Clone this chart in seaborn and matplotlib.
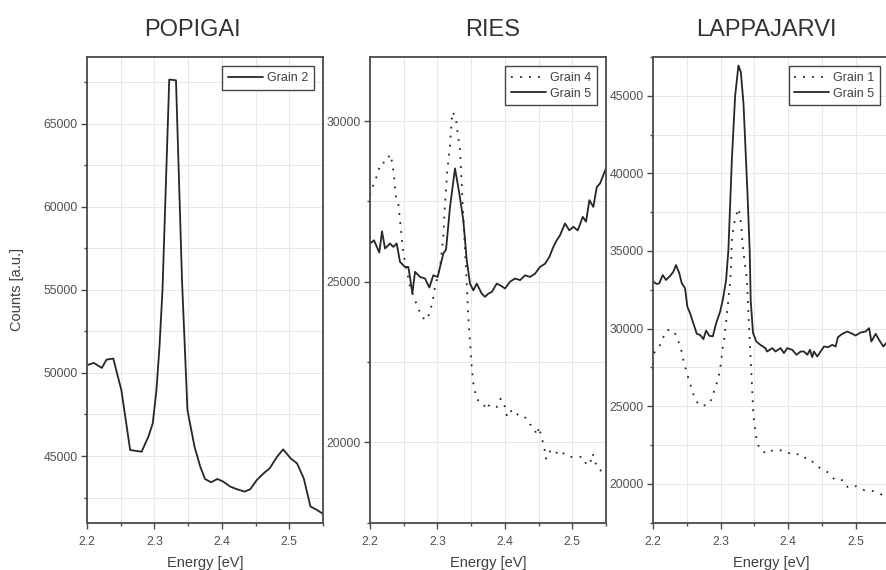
import numpy as np
import pandas as pd
import matplotlib
matplotlib.use("Agg")
import matplotlib.pyplot as plt
import matplotlib.ticker as mticker
import seaborn as sns

# Popigai, grain 2
pop_e = [2.200, 2.210, 2.222, 2.229, 2.239, 2.251, 2.264, 2.274, 2.281, 2.291,
         2.2975, 2.303, 2.3075, 2.312, 2.322, 2.332, 2.341, 2.349, 2.3595, 2.368,
         2.375, 2.384, 2.3935, 2.402, 2.4125, 2.4225, 2.434, 2.442, 2.452, 2.462,
         2.471, 2.482, 2.491, 2.502, 2.5115, 2.5215, 2.5315, 2.541, 2.550]
pop_g2 = [50460, 50600, 50300, 50800, 50860, 48960, 45360, 45300, 45260, 46160,
          46960, 48960, 51560, 55000, 67640, 67600, 55500, 47760, 45560, 44360,
          43620, 43420, 43620, 43460, 43160, 43000, 42860, 43000, 43560, 43960,
          44260, 44960, 45400, 44860, 44560, 43660, 41960, 41760, 41520]

# Ries, grain 4 (dotted)
ries_e4 = [2.2000, 2.2034, 2.2085, 2.2123, 2.2163, 2.2233, 2.2297, 2.2331, 2.2361, 2.2381,
           2.2420, 2.2445, 2.2470, 2.2494, 2.2545, 2.2593, 2.2668, 2.2717, 2.2767, 2.2841,
           2.2890, 2.2930, 2.2964, 2.3039, 2.3088, 2.3113, 2.3147, 2.3187, 2.3212, 2.3221,
           2.3272, 2.3301, 2.3335, 2.3360, 2.3384, 2.3409, 2.3435, 2.3458, 2.3484, 2.3509,
           2.3533, 2.3583, 2.3681, 2.3717, 2.3780, 2.3889, 2.3939, 2.4003, 2.4028, 2.4077,
           2.4117, 2.4166, 2.4215, 2.4315, 2.4374, 2.4433, 2.4473, 2.4512, 2.4533, 2.4571,
           2.4596, 2.4611, 2.4660, 2.4745, 2.4794, 2.4859, 2.4942, 2.5042, 2.5156, 2.5215,
           2.5264, 2.5304, 2.5338, 2.5387, 2.5450]
ries_g4 = [27695, 27935, 28190, 28450, 28710, 28710, 28970, 28710, 28190, 27670,
           27415, 26920, 26400, 25880, 25360, 24840, 24420, 24165, 23900, 23800,
           24060, 24400, 24840, 25460, 26400, 27440, 28475, 29250, 30030, 30290,
           30135, 29615, 29100, 28060, 27020, 25980, 24940, 23900, 23125, 22345,
           21830, 21330, 21225, 21020, 21185, 21100, 21360, 21100, 20840, 21020,
           20890, 20930, 20790, 20760, 20560, 20460, 20220, 20480, 20220, 19960,
           19700, 19490, 19730, 19600, 19750, 19670, 19545, 19545, 19545, 19285,
           19340, 19650, 19390, 19150, 19100]

# Ries, grain 5
ries_e5 = [2.2000, 2.2059, 2.2138, 2.2178, 2.2223, 2.2297, 2.2346, 2.2396, 2.2445, 2.2519,
           2.2568, 2.2593, 2.2628, 2.2668, 2.2742, 2.2816, 2.2880, 2.2939, 2.3004, 2.3039,
           2.3088, 2.3128, 2.3187, 2.3261, 2.3325, 2.3384, 2.3435, 2.3484, 2.3533, 2.3583,
           2.3657, 2.3706, 2.3755, 2.3806, 2.3880, 2.3929, 2.4003, 2.4077, 2.4151, 2.4226,
           2.4300, 2.4374, 2.4448, 2.4522, 2.4596, 2.4660, 2.4720, 2.4770, 2.4819, 2.4893,
           2.4957, 2.5016, 2.5082, 2.5156, 2.5205, 2.5254, 2.5313, 2.5364, 2.5412, 2.5501]
ries_g5 = [26190, 26290, 25910, 26570, 26035, 26190, 26085, 26190, 25620, 25460,
           25460, 25150, 24630, 25310, 25150, 25100, 24820, 25200, 25150, 25460,
           25880, 26000, 27330, 28530, 27750, 26920, 25670, 24940, 24730, 24940,
           24630, 24530, 24630, 24680, 24940, 24890, 24790, 25000, 25100, 25050,
           25200, 25150, 25250, 25460, 25560, 25770, 26085, 26290, 26450, 26815,
           26600, 26710, 26600, 27020, 26870, 27540, 27330, 27950, 28060, 28530]

# Lappajarvi, grain 1 (dotted)
lap_e1 = [2.2010, 2.2089, 2.2140, 2.2208, 2.2308, 2.2357, 2.2407, 2.2431, 2.2461, 2.2496,
          2.2530, 2.2571, 2.2609, 2.2679, 2.2802, 2.2883, 2.2906, 2.2957, 2.2981, 2.3001,
          2.3016, 2.3031, 2.3051, 2.3065, 2.3080, 2.3091, 2.3106, 2.3114, 2.3129, 2.3140,
          2.3150, 2.3165, 2.3180, 2.3199, 2.3229, 2.3263, 2.3288, 2.3303, 2.3322, 2.3348,
          2.3388, 2.3437, 2.3462, 2.3486, 2.3536, 2.3585, 2.3685, 2.3734, 2.3823, 2.3957,
          2.4071, 2.4169, 2.4239, 2.4303, 2.4368, 2.4487, 2.4585, 2.4700, 2.4814, 2.4889,
          2.5012, 2.5135, 2.5260, 2.5379, 2.5468]
lap_g1 = [28420, 28840, 29380, 29915, 29850, 29320, 28780, 28245, 27710, 27170,
          26640, 26100, 25565, 25050, 25050, 25565, 26100, 26640, 27170, 27710,
          28245, 28780, 29320, 29850, 30385, 30920, 31450, 32000, 32520, 33060,
          33600, 35700, 36230, 36770, 37300, 37740, 37200, 36660, 35590, 34520,
          33200, 28630, 26490, 24340, 22700, 22200, 21930, 22100, 22200, 22100,
          21840, 21920, 21670, 21670, 21390, 20960, 20745, 20230, 20230, 19740,
          19845, 19570, 19525, 19310, 19200]

# Lappajarvi, grain 5
lap_e5 = [2.2000, 2.2051, 2.2089, 2.2140, 2.2189, 2.2248, 2.2297, 2.2337, 2.2386, 2.2422,
          2.2471, 2.2505, 2.2545, 2.2594, 2.2645, 2.2694, 2.2743, 2.2783, 2.2832, 2.2883,
          2.2932, 2.2991, 2.3031, 2.3080, 2.3114, 2.3165, 2.3214, 2.3263, 2.3299, 2.3338,
          2.3397, 2.3430, 2.3445, 2.3479, 2.3528, 2.3588, 2.3662, 2.3689, 2.3764, 2.3813,
          2.3887, 2.3938, 2.3987, 2.4061, 2.4125, 2.4184, 2.4235, 2.4284, 2.4324, 2.4358,
          2.4383, 2.4432, 2.4481, 2.4532, 2.4591, 2.4655, 2.4704, 2.4740, 2.4804, 2.4878,
          2.4952, 2.5001, 2.5076, 2.5150, 2.5201, 2.5235, 2.5299, 2.5349, 2.5413, 2.5473]
lap_g5 = [33020, 32870, 32920, 33450, 33130, 33385, 33660, 34090, 33560, 32920,
          32600, 31410, 30990, 30340, 29660, 29590, 29320, 29870, 29530, 29500,
          30340, 31090, 31845, 33130, 35060, 40840, 45000, 46950, 46520, 44490,
          38720, 35000, 31800, 29720, 29165, 28950, 28740, 28520, 28740, 28520,
          28740, 28420, 28740, 28630, 28310, 28520, 28520, 28310, 28630, 28160,
          28520, 28200, 28520, 28840, 28800, 28950, 28840, 29445, 29660, 29810,
          29660, 29550, 29745, 29810, 30025, 29165, 29660, 29270, 28840, 29165]

titles = ["POPIGAI", "RIES", "LAPPAJARVI"]
panels = [
    [("Grain 2", pop_e, pop_g2, "-")],
    [("Grain 4", ries_e4, ries_g4, "dot"), ("Grain 5", ries_e5, ries_g5, "-")],
    [("Grain 1", lap_e1, lap_g1, "dot"), ("Grain 5", lap_e5, lap_g5, "-")],
]
ylims = [(41000, 69000), (17500, 32000), (17500, 47500)]

sns.set_style("whitegrid")
plt.rcParams["font.family"] = ["Liberation Sans", "DejaVu Sans"]

fig = plt.figure(figsize=(8.87, 5.70), dpi=100)
lefts = [87 / 887, 370 / 887, 653.3 / 887]
title_x = [0.445, 0.52, 0.48]
line_col = "#262626"
spine_col = "#4a4a4a"

for i, ax_left in enumerate(lefts):
    ax = fig.add_axes([ax_left, 0.0833, 0.266, 0.8167])
    for name, e, c, ls in panels[i]:
        df = pd.DataFrame({"Energy": e, "Counts": c})
        if ls == "dot":
            sns.lineplot(data=df, x="Energy", y="Counts", ax=ax, color=line_col,
                         lw=1.3, linestyle=(0, (1, 4)), label=name, estimator=None)
        else:
            sns.lineplot(data=df, x="Energy", y="Counts", ax=ax, color=line_col,
                         lw=1.3, label=name, estimator=None)
    ax.set_xlim(2.2, 2.55)
    ax.set_ylim(*ylims[i])
    ax.xaxis.set_major_locator(mticker.MultipleLocator(0.1))
    ax.xaxis.set_minor_locator(mticker.MultipleLocator(0.05))
    ax.xaxis.set_major_formatter(mticker.FormatStrFormatter("%.1f"))
    ax.yaxis.set_major_locator(mticker.MultipleLocator(5000))
    ax.yaxis.set_minor_locator(mticker.MultipleLocator(2500))
    ax.yaxis.set_major_formatter(mticker.FormatStrFormatter("%d"))
    ax.grid(which="both", color="#e8e8e8", lw=0.7)
    ax.tick_params(axis="both", which="major", direction="out", length=4.3, width=1,
                   color=spine_col, labelsize=8.8, labelcolor="#505050")
    ax.tick_params(axis="both", which="minor", direction="out", length=2.5, width=1,
                   color=spine_col)
    ax.tick_params(axis="x", which="both", pad=5.5, bottom=True)
    ax.tick_params(axis="y", which="both", pad=2.5, left=True)
    for sp in ax.spines.values():
        sp.set_color(spine_col)
        sp.set_linewidth(1.3)
    ax.set_xlabel("Energy [eV]", fontsize=10.5, color="#404040", labelpad=6)
    if i == 0:
        ax.set_ylabel("Counts [a.u.]", fontsize=10.5, color="#404040", labelpad=14)
    else:
        ax.set_ylabel("")
    t = ax.set_title(titles[i], fontsize=17, color="#333333", pad=15)
    t.set_x(title_x[i])
    leg = ax.legend(loc="upper right", frameon=True, fancybox=False, framealpha=1,
                    edgecolor="#444444", fontsize=9, handlelength=2.8,
                    borderaxespad=0.75, borderpad=0.45, labelspacing=0.3,
                    handletextpad=0.3)
    leg.get_frame().set_linewidth(1.0)
    for txt in leg.get_texts():
        txt.set_color("#404040")

fig.savefig("out.png", dpi=100)
